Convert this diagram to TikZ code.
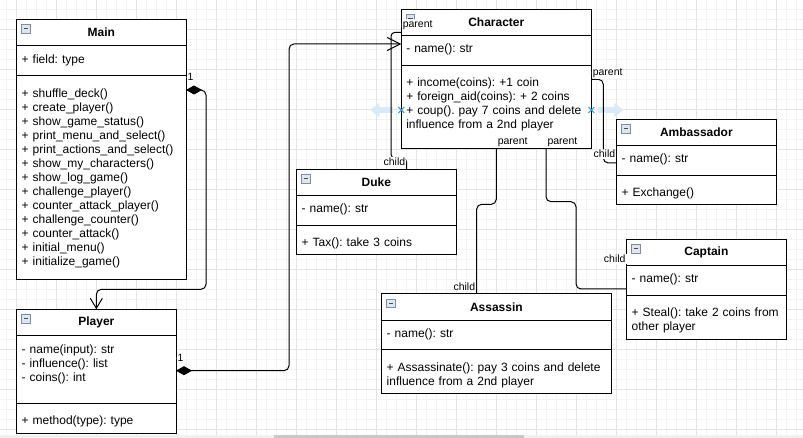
\documentclass[tikz,border=0pt]{standalone}
\usepackage{fontspec}
\setmainfont{Liberation Sans}
\usetikzlibrary{positioning,arrows.meta,shapes.misc}
\definecolor{gridminor}{HTML}{F3F3F3}
\definecolor{gridmajor}{HTML}{E3E3E3}
\definecolor{iconline}{HTML}{7D8EA3}
\definecolor{iconfill}{HTML}{DFE6EE}
\definecolor{hoverblue}{HTML}{D8EAF8}
\definecolor{hovermark}{HTML}{2AA4E6}
\definecolor{scrolltrack}{HTML}{F0F0F0}
\definecolor{scrollthumb}{HTML}{C8C8C8}
\newcommand\umlfont{\fontsize{12pt}{14pt}\selectfont}
\newcommand\labelfont{\fontsize{10.5pt}{12pt}\selectfont}
\frenchspacing
\tikzset{
  classhead/.style={draw, fill=white, line width=1pt, anchor=north west, inner sep=0pt, outer sep=0pt, minimum height=26pt, font=\umlfont\bfseries},
  classpart/.style={draw, fill=white, line width=1pt, inner xsep=5pt, inner ysep=0pt, outer sep=0pt, align=left, font=\umlfont},
  attrpart/.style={classpart, text height=17.7pt, text depth=#1},
  methpart/.style={classpart, text height=21.4pt, text depth=#1},
  collapse/.style={draw=iconline, fill=iconfill, line width=0.8pt, minimum size=8.5pt, inner sep=0pt, anchor=north west,
    path picture={\draw[black!70, line width=1pt] ([xshift=2pt]path picture bounding box.west) -- ([xshift=-2pt]path picture bounding box.east);}},
  assoc/.style={draw, line width=1pt, rounded corners=5pt},
  endlabel/.style={fill=white, inner sep=1pt, font=\labelfont},
  hover/.style={draw=hoverblue, line width=6pt, -{Triangle[length=9pt,width=14pt]}},
  xmark/.style={cross out, draw=hovermark, line width=1pt, minimum size=5pt, inner sep=0pt},
}

\begin{document}
\begin{tikzpicture}[x=1pt,y=-1pt]
\useasboundingbox (0,0) rectangle (803,438);
% grid and scroll bar
\foreach \gx in {6.5,16.5,...,803} \draw[gridminor, line width=1pt] (\gx,0) -- (\gx,434.7);
\foreach \gy in {9.7,19.7,...,434} \draw[gridminor, line width=1pt] (0,\gy) -- (803,\gy);
\foreach \gx in {16.5,56.5,...,803} \draw[gridmajor, line width=1pt] (\gx,0) -- (\gx,434.7);
\foreach \gy in {29.7,69.7,...,434} \draw[gridmajor, line width=1pt] (0,\gy) -- (803,\gy);
\fill[scrolltrack] (0,434.7) rectangle (803,438);
\fill[scrollthumb] (274,434.7) rectangle (524,438);

% Main
\node[classhead, minimum width=169.3pt] (mainHead) at (16.7,19.5) {Main};
\node[attrpart=12.8pt, text width=159.3pt, below=0pt of mainHead] (mainAttr) {+ field: type};
\node[methpart=182.1pt, text width=159.3pt, below=0pt of mainAttr] (mainMeth)
  {+ shuffle\_deck()\\+ create\_player()\\+ show\_game\_status()\\+ print\_menu\_and\_select()\\
   + print\_actions\_and\_select()\\+ show\_my\_characters()\\+ show\_log\_game()\\+ challenge\_player()\\
   + counter\_attack\_player()\\+ challenge\_counter()\\+ counter\_attack()\\+ initial\_menu()\\+ initialize\_game()};

% Player
\node[classhead, minimum width=159.3pt] (plHead) at (16.7,309.3) {Player};
\node[attrpart=50pt, text width=149.3pt, below=0pt of plHead] (plAttr)
  {- name(input): str\\ - influence(): list\\ - coins(): int};
\node[methpart=8.9pt, text width=149.3pt, below=0pt of plAttr] (plMeth) {+ method(type): type};

% hover marks round Character
\draw[hover] ([shift={(-8pt,-3pt)}]401.3,107) -- ([shift={(-31pt,-3pt)}]401.3,107);
\draw[hover] ([shift={(7pt,-3pt)}]591.3,107) -- ([shift={(32pt,-3pt)}]591.3,107);

% Character
\node[classhead, minimum width=190pt] (chHead) at (401.3,9.3) {Character};
\node[attrpart=12.3pt, text width=180pt, below=0pt of chHead] (chAttr) {- name(): str};
\node[methpart=62pt, text width=180pt, below=0pt of chAttr] (chMeth)
  {+ income(coins): +1 coin\\+ foreign\_aid(coins): + 2 coins\\+ coup(). pay 7 coins and delete\\influence from a 2nd player};

% Duke
\node[classhead, minimum width=159.3pt] (dkHead) at (296.7,169.3) {Duke};
\node[attrpart=12.3pt, text width=149.3pt, below=0pt of dkHead] (dkAttr) {- name(): str};
\node[methpart=8.3pt, text width=149.3pt, below=0pt of dkAttr] (dkMeth) {+ Tax(): take 3 coins};

% Ambassador
\node[classhead, minimum width=159.3pt] (amHead) at (616.7,119.3) {Ambassador};
\node[attrpart=12.3pt, text width=149.3pt, below=0pt of amHead] (amAttr) {- name(): str};
\node[methpart=8.3pt, text width=149.3pt, below=0pt of amAttr] (amMeth) {+ Exchange()};

% Captain
\node[classhead, minimum width=159.3pt] (cpHead) at (626.7,239.3) {Captain};
\node[attrpart=12.3pt, text width=149.3pt, below=0pt of cpHead] (cpAttr) {- name(): str};
\node[methpart=22.3pt, text width=149.3pt, below=0pt of cpAttr] (cpMeth)
  {+ Steal(): take 2 coins from\\other player};

% Assassin
\node[classhead, minimum width=229.3pt] (asHead) at (381.7,294) {Assassin};
\node[attrpart=12pt, text width=219.3pt, below=0pt of asHead] (asAttr) {- name(): str};
\node[methpart=22.6pt, text width=219.3pt, below=0pt of asAttr] (asMeth)
  {+ Assassinate(): pay 3 coins and delete\\influence from a 2nd player};

% collapse icons
\node[collapse] (mainIcon) at ([shift={(4.6pt,-4.8pt)}]mainHead.north west) {};
\node[collapse] (plIcon) at ([shift={(4.6pt,-4.8pt)}]plHead.north west) {};
\node[collapse] (chIcon) at ([shift={(4.6pt,-4.8pt)}]chHead.north west) {};
\node[collapse] (dkIcon) at ([shift={(4.6pt,-4.8pt)}]dkHead.north west) {};
\node[collapse] (amIcon) at ([shift={(4.6pt,-4.8pt)}]amHead.north west) {};
\node[collapse] (cpIcon) at ([shift={(4.6pt,-4.8pt)}]cpHead.north west) {};
\node[collapse] (asIcon) at ([shift={(4.6pt,-4.8pt)}]asHead.north west) {};

% connectors
\draw[assoc, {Diamond[length=16pt,width=9pt]}-{Straight Barb[length=10pt,width=12pt]}]
  ([yshift=-14pt]mainMeth.north east) -- node[endlabel, at start, anchor=south west, yshift=7.5pt] {1} ++(20,0)
  |- ([yshift=20pt]plHead.north) -- (plHead.north);
\draw[assoc, {Diamond[length=16pt,width=9pt]}-{Straight Barb[length=13pt,width=13pt]}]
  ([yshift=-35.4pt]plAttr.north east) -- node[endlabel, at start, anchor=south west, yshift=7.5pt] {1} ++(113,0)
  |- ([yshift=-8.7pt]chAttr.north west);
\draw[assoc, rounded corners=4pt] ([xshift=110pt]dkHead.north west)
  -- node[endlabel, at start, anchor=south east, yshift=2pt] {child} ++(0,-11) -- ++(-15.7,0)
  |- ([yshift=3pt]chHead.south west) node[endlabel, at end, anchor=south west, yshift=1.5pt] {parent};
\draw[assoc] ([yshift=-14pt]chMeth.north east)
  -- node[endlabel, at start, anchor=south west] {parent} ++(12,0)
  |- ([yshift=-17.7pt]amAttr.north west) node[endlabel, at end, anchor=south east, yshift=3.5pt] {child};
\draw[assoc] (chMeth.south) -- node[endlabel, at start, anchor=south west, yshift=1pt] {parent} ++(0,55.6)
  -| ([xshift=-19.7pt]asHead.north) node[endlabel, at end, anchor=south east, yshift=2pt] {child};
\draw[assoc] ([xshift=49.7pt]chMeth.south) -- node[endlabel, at start, anchor=south west, yshift=1pt] {parent} ++(0,53)
  -- ++(30,0) |- ([yshift=-23.7pt]cpAttr.north west);
\node[endlabel, anchor=south east] (cpChild) at ([yshift=-12pt]cpHead.west) {child};

% hover crosses
\node[xmark] (chLeftMark) at ([yshift=-3pt]chMeth.west) {};
\node[xmark] (chRightMark) at ([yshift=-3pt]chMeth.east) {};
\end{tikzpicture}
\end{document}
